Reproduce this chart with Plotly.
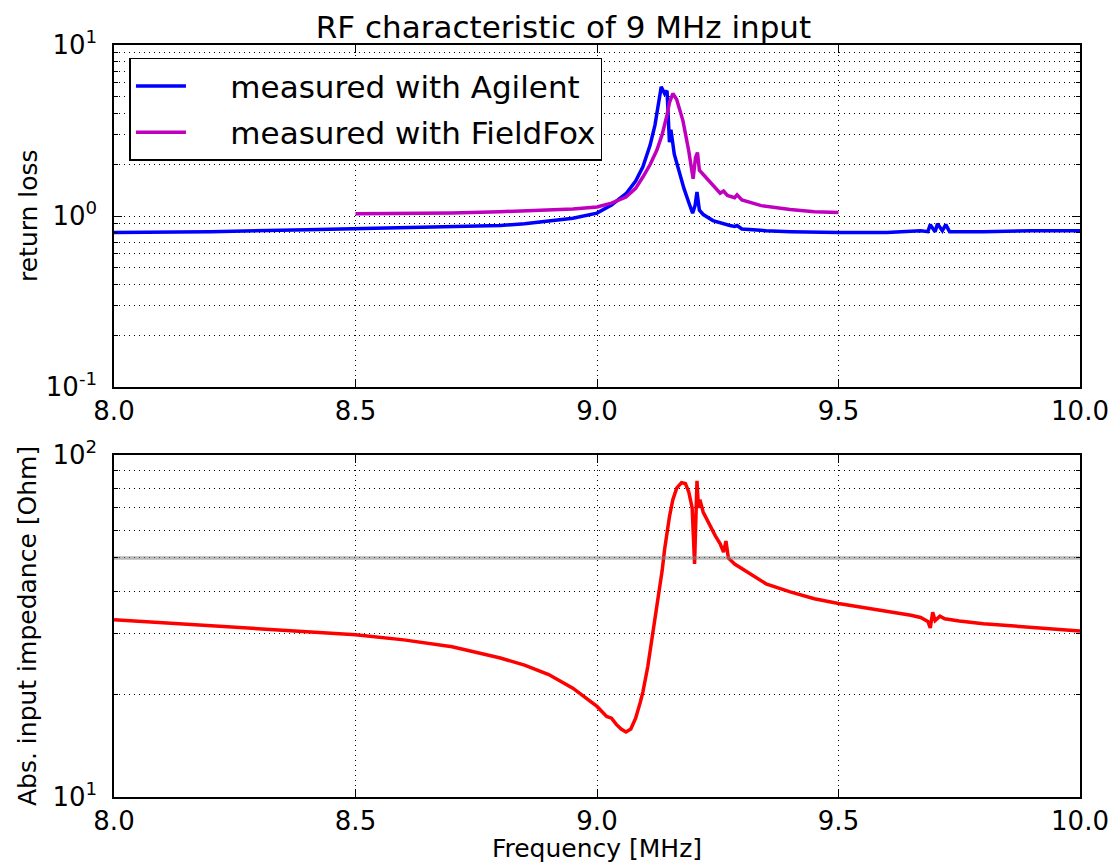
import plotly.graph_objects as go
from plotly.subplots import make_subplots

# --- data
agilent_f = [8.0, 8.2, 8.4, 8.6, 8.7, 8.8, 8.85, 8.9, 8.95, 9.0, 9.03, 9.06, 9.08, 9.095,
             9.11, 9.12, 9.13, 9.133, 9.14, 9.145, 9.15, 9.153, 9.16, 9.17, 9.18, 9.19,
             9.198, 9.203, 9.207, 9.212, 9.22, 9.24, 9.26, 9.275, 9.285, 9.29, 9.3, 9.35,
             9.4, 9.5, 9.6, 9.65, 9.67, 9.685, 9.69, 9.7, 9.705, 9.715, 9.722, 9.73, 9.75,
             9.8, 9.9, 10.0]
agilent_rl = [0.80, 0.81, 0.83, 0.85, 0.86, 0.88, 0.90, 0.93, 0.97, 1.04, 1.16, 1.35, 1.6, 1.94,
              2.6, 3.4, 5.3, 5.7, 5.2, 5.4, 2.7, 3.2, 2.3, 1.8, 1.45, 1.2,
              1.04, 1.15, 1.38, 1.08, 1.02, 0.94, 0.90, 0.88, 0.87, 0.88, 0.84, 0.82,
              0.81, 0.80, 0.80, 0.81, 0.82, 0.81, 0.89, 0.81, 0.90, 0.82, 0.89, 0.81, 0.81,
              0.81, 0.82, 0.82]

fieldfox_f = [8.5, 8.6, 8.7, 8.8, 8.9, 8.95, 9.0, 9.03, 9.06, 9.08, 9.095, 9.11, 9.124,
              9.135, 9.145, 9.15, 9.157, 9.165, 9.178, 9.19, 9.199, 9.204, 9.208, 9.212,
              9.22, 9.24, 9.255, 9.262, 9.27, 9.285, 9.29, 9.3, 9.34, 9.4, 9.45, 9.5]
fieldfox_rl = [1.03, 1.035, 1.04, 1.06, 1.08, 1.10, 1.13, 1.19, 1.29, 1.45, 1.69, 2.0, 2.43,
               3.0, 3.9, 4.6, 5.2, 4.8, 3.6, 2.4, 1.65, 2.2, 2.35, 1.85,
               1.75, 1.5, 1.36, 1.40, 1.32, 1.28, 1.33, 1.24, 1.15, 1.09, 1.06, 1.05]

imp_f = [8.0, 8.25, 8.5, 8.6, 8.7, 8.8, 8.85, 8.9, 8.95, 9.0, 9.02, 9.03, 9.035, 9.04, 9.05,
         9.06, 9.07, 9.08, 9.09, 9.095, 9.105, 9.116, 9.125, 9.135, 9.14, 9.145, 9.15,
         9.157, 9.165, 9.175, 9.183, 9.19, 9.197, 9.202, 9.205, 9.207, 9.21, 9.213, 9.22,
         9.23, 9.245, 9.255, 9.262, 9.267, 9.272, 9.285, 9.3, 9.35, 9.4, 9.45, 9.5, 9.6,
         9.65, 9.67, 9.685, 9.69, 9.695, 9.7, 9.71, 9.72, 9.75, 9.8, 9.9, 10.0]
imp_ohm = [33.0, 31.4, 29.8, 28.8, 27.5, 25.5, 24.3, 22.8, 20.8, 18.4, 17.2, 17.0, 16.6, 16.3,
           15.8, 15.5, 15.8, 17.0, 19.0, 20.3, 24.0, 30.2, 37.0, 46.0, 53.0, 60.0, 66.0,
           74.0, 80.0, 83.0, 82.5, 78.0, 70.0, 48.0, 65.0, 84.0, 70.0, 74.0, 68.0,
           63.5, 58.0, 55.0, 52.0, 56.0, 50.0, 48.0, 46.5, 42.0, 39.8, 38.0, 36.8, 35.0,
           34.0, 33.5, 32.6, 31.2, 34.7, 32.8, 33.8, 33.2, 32.7, 32.1, 31.4, 30.6]

ref_impedance = 50

x_ticks = [8.0, 8.5, 9.0, 9.5, 10.0]
minor_top = [k * 10 ** e for e in (-1, 0) for k in range(2, 10)]
minor_bot = [k * 10 for k in range(2, 10)]

FONT = "DejaVu Sans"
TICK_SIZE = 26
LABEL_SIZE = 25
LW = 3.5

fig = make_subplots(rows=2, cols=1)

fig.add_trace(go.Scatter(x=agilent_f, y=agilent_rl, mode="lines", legendgroup="a",
                         name="&nbsp;&nbsp;&nbsp;&nbsp;measured with Agilent",
                         line=dict(color="#0000ff", width=LW)), row=1, col=1)
fig.add_trace(go.Scatter(x=fieldfox_f, y=fieldfox_rl, mode="lines", legendgroup="b",
                         name="&nbsp;&nbsp;&nbsp;&nbsp;measured with FieldFox",
                         line=dict(color="#bf00bf", width=LW)), row=1, col=1)
fig.add_trace(go.Scatter(x=imp_f, y=imp_ohm, mode="lines", showlegend=False,
                         line=dict(color="#ff0000", width=LW)), row=2, col=1)

# 50 Ohm reference line
fig.add_trace(go.Scatter(x=[8.0, 10.0], y=[ref_impedance, ref_impedance], mode="lines",
                         showlegend=False, line=dict(color="rgba(128,128,128,0.55)", width=3.5)),
              row=2, col=1)

grid = dict(showgrid=True, gridcolor="black", gridwidth=1, griddash="1px,4px")
axis_common = dict(showline=True, linecolor="black", linewidth=1.5, mirror="ticks",
                   ticks="inside", ticklen=8, tickwidth=1, tickcolor="black", automargin=False,
                   tickfont=dict(family=FONT, size=TICK_SIZE, color="black"), zeroline=False, **grid)

fig.update_xaxes(range=[8.0, 10.0], tickvals=x_ticks, tickformat=".1f", **axis_common)
fig.update_xaxes(title=dict(text="Frequency [MHz]",
                            font=dict(family=FONT, size=LABEL_SIZE, color="black"),
                            standoff=2), row=2, col=1)

fig.update_yaxes(type="log", range=[-1, 1], tickvals=[0.1, 1, 10],
                 ticktext=["10<sup>-1</sup>", "10<sup>0</sup>", "10<sup>1</sup>"],
                 minor=dict(tickvals=minor_top, ticks="inside", ticklen=4, tickcolor="black",
                            showgrid=True, gridcolor="black", griddash="1px,4px"),
                 ticklabelstandoff=10,
                 row=1, col=1, **axis_common)
fig.update_yaxes(type="log", range=[1, 2], tickvals=[10, 100],
                 ticktext=["10<sup>1</sup>", "10<sup>2</sup>"],
                 minor=dict(tickvals=minor_bot, ticks="inside", ticklen=4, tickcolor="black",
                            showgrid=True, gridcolor="black", griddash="1px,4px"),
                 ticklabelstandoff=10,
                 row=2, col=1, **axis_common)

# y-axis titles as rotated annotations so they sit where matplotlib put them
ytitle_font = dict(family=FONT, size=LABEL_SIZE, color="black")
fig.add_annotation(text="return loss", xref="paper", yref="paper", x=-0.089, y=0.7726,
                   xanchor="center", yanchor="middle", textangle=-90, showarrow=False,
                   font=ytitle_font)
fig.add_annotation(text="Abs. input impedance [Ohm]", xref="paper", yref="paper", x=-0.089,
                   y=0.2274, xanchor="center", yanchor="middle", textangle=-90, showarrow=False,
                   font=ytitle_font)

# page body adds an 8px offset, so the figure is sized/margined to compensate
fig.update_layout(
    width=1111, height=855,
    margin=dict(l=106, r=39, t=37, b=66),
    paper_bgcolor="white", plot_bgcolor="white",
    font=dict(family=FONT, color="black"),
    title=dict(text="RF characteristic of 9 MHz input", x=0.5, xanchor="center",
               y=0.978, yanchor="middle", automargin=False,
               font=dict(family=FONT, size=31, color="black")),
    yaxis=dict(domain=[0.5452, 1.0]),
    yaxis2=dict(domain=[0.0, 0.4548]),
    legend=dict(x=0.016, y=0.983, xanchor="left", yanchor="top", tracegroupgap=3,
                bgcolor="white", bordercolor="black", borderwidth=1.5,
                font=dict(family=FONT, size=31, color="black"), itemwidth=50),
)

fig.write_html("out.html")
